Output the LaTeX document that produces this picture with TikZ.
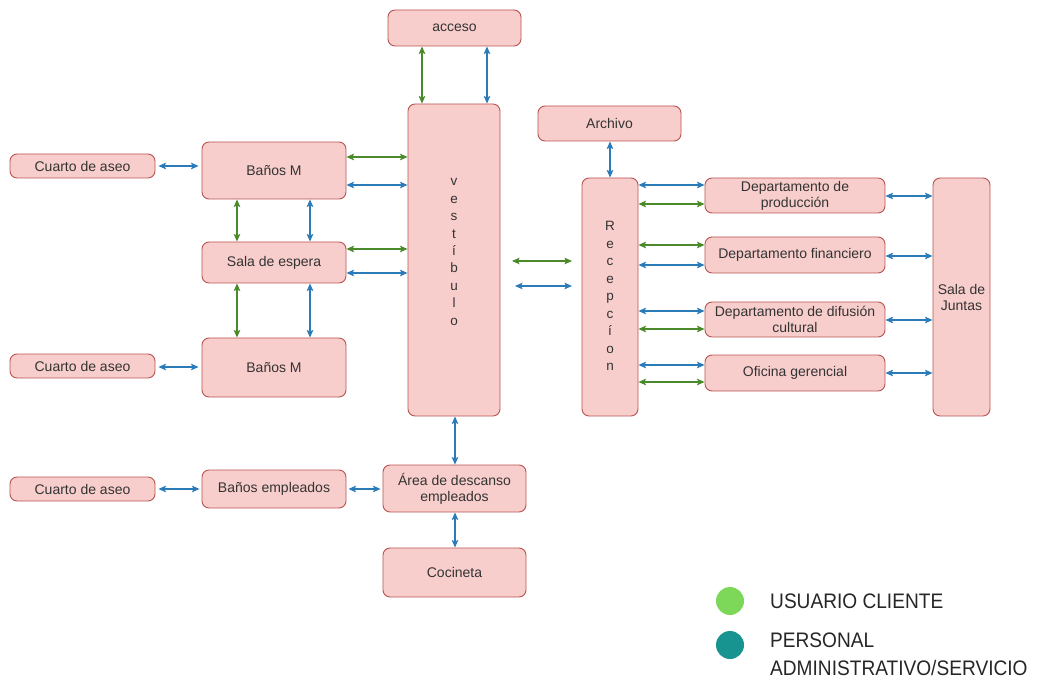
\documentclass[tikz,border=0pt]{standalone}
\usepackage{fontspec}
\setmainfont{Liberation Sans}
\usetikzlibrary{arrows.meta}
\definecolor{boxfill}{HTML}{F8CECC}
\definecolor{boxline}{HTML}{B85450}
\definecolor{garrow}{HTML}{4A8A2A}
\definecolor{barrow}{HTML}{2B7BB9}
\definecolor{leggreen}{HTML}{7DD85A}
\definecolor{legteal}{HTML}{17948F}
\definecolor{legtext}{HTML}{262626}
\definecolor{boxtext}{HTML}{333333}
\tikzset{
  box/.style={draw=boxline, fill=boxfill, rounded corners=7pt, line width=0.9pt,
    font=\fontsize{14}{16}\selectfont, text=boxtext, align=center, inner sep=0pt},
  vtext/.style={font=\fontsize{13.5}{17.5}\selectfont, text=boxtext, align=center, inner sep=0pt},
  conn/.style={line width=1.2pt, {Stealth[length=7.5pt,width=6.5pt,inset=1.5pt]}-{Stealth[length=7.5pt,width=6.5pt,inset=1.5pt]}},
  garr/.style={conn, draw=garrow, fill=garrow},
  barr/.style={conn, draw=barrow, fill=barrow},
  legtxt/.style={anchor=west, text=legtext, font=\fontsize{21}{28}\selectfont, inner sep=0pt, align=left}
}
\newcommand{\bx}[7]{% name, x1, y1, x2, y2, text
  \node[box, minimum width={#4-#2}, minimum height={#5-#3}] (#1) at ({(#2+#4)/2},{(#3+#5)/2}) {#6};}
\begin{document}
\begin{tikzpicture}[x=1pt,y=-1pt]
\useasboundingbox (0,0) rectangle (1037,687);
\bx{acceso}{388}{10}{521}{46}{acceso}{}
\bx{vest}{408}{104}{500}{416}{}{}
\node[vtext] (vtxt) at (454,252) {v\\e\\s\\t\\í\\b\\u\\l\\o};
\bx{archivo}{538}{106}{681}{141}{Archivo}{}
\bx{recep}{582}{178}{638}{416}{}{}
\node[vtext] (rtxt) at (610,296) {R\\e\\c\\e\\p\\c\\í\\o\\n};
\bx{ca1}{10}{154}{155}{178}{Cuarto de aseo}{}
\bx{bm1}{202}{142}{346}{199}{Baños M}{}
\bx{sala}{202}{242}{346}{283}{Sala de espera}{}
\bx{ca2}{10}{354}{155}{378}{Cuarto de aseo}{}
\bx{bm2}{202}{338}{346}{397}{Baños M}{}
\bx{ca3}{10}{477}{155}{501}{Cuarto de aseo}{}
\bx{be}{202}{470}{346}{508}{Baños empleados}{}
\bx{area}{383}{465}{526}{512}{Área de descanso\\empleados}{}
\bx{coc}{383}{548}{526}{597}{Cocineta}{}
\bx{dprod}{705}{178}{885}{213}{Departamento de\\producción}{}
\bx{dfin}{705}{237}{885}{273}{Departamento financiero}{}
\bx{ddif}{705}{302}{885}{337}{Departamento de difusión\\cultural}{}
\bx{ofi}{705}{355}{885}{391}{Oficina gerencial}{}
\bx{juntas}{933}{178}{990}{416}{Sala de\\Juntas}{}
% acceso - vestibulo
\draw[garr] (acceso.south -| 422,0) -- (vest.north -| 422,0);
\draw[barr] (acceso.south -| 487,0) -- (vest.north -| 487,0);
% banos M / sala -> vestibulo
\draw[garr] (bm1.east |- 0,157) -- (vest.west |- 0,157);
\draw[barr] (bm1.east |- 0,185) -- (vest.west |- 0,185);
\draw[garr] (sala.east |- 0,249) -- (vest.west |- 0,249);
\draw[barr] (sala.east |- 0,273) -- (vest.west |- 0,273);
% vertical between banos and sala
\draw[garr] (bm1.south -| 237,0) -- (sala.north -| 237,0);
\draw[barr] (bm1.south -| 310,0) -- (sala.north -| 310,0);
\draw[garr] (sala.south -| 237,0) -- (bm2.north -| 237,0);
\draw[barr] (sala.south -| 310,0) -- (bm2.north -| 310,0);
% cuarto de aseo
\draw[barr, shorten <=3pt, shorten >=3pt] (ca1.east |- 0,166) -- (bm1.west |- 0,166);
\draw[barr, shorten <=3pt, shorten >=3pt] (ca2.east |- 0,367) -- (bm2.west |- 0,367);
\draw[barr, shorten <=3pt, shorten >=2pt] (ca3.east |- 0,489) -- (be.west |- 0,489);
\draw[barr, shorten <=2pt, shorten >=2pt] (be.east |- 0,489) -- (area.west |- 0,489);
% vestibulo - area - cocineta
\draw[barr] (vest.south -| 455,0) -- (area.north -| 455,0);
\draw[barr] (area.south -| 455,0) -- (coc.north -| 455,0);
% free arrows vestibulo - recepcion
\coordinate (g1) at (512,261); \coordinate (g2) at (572,261);
\coordinate (b1) at (515,286); \coordinate (b2) at (572,286);
\draw[garr] (g1) -- (g2);
\draw[barr] (b1) -- (b2);
% archivo - recepcion
\draw[barr] (archivo.south -| 610,0) -- (recep.north -| 610,0);
% recepcion - departamentos
\draw[barr] (recep.east |- 0,185) -- (dprod.west |- 0,185);
\draw[garr] (recep.east |- 0,204) -- (dprod.west |- 0,204);
\draw[garr] (recep.east |- 0,245) -- (dfin.west |- 0,245);
\draw[barr] (recep.east |- 0,265) -- (dfin.west |- 0,265);
\draw[barr] (recep.east |- 0,311) -- (ddif.west |- 0,311);
\draw[garr] (recep.east |- 0,329) -- (ddif.west |- 0,329);
\draw[barr] (recep.east |- 0,365) -- (ofi.west |- 0,365);
\draw[garr] (recep.east |- 0,382) -- (ofi.west |- 0,382);
% departamentos - sala de juntas
\draw[barr] (dprod.east |- 0,196) -- (juntas.west |- 0,196);
\draw[barr] (dfin.east |- 0,256) -- (juntas.west |- 0,256);
\draw[barr] (ddif.east |- 0,320) -- (juntas.west |- 0,320);
\draw[barr] (ofi.east |- 0,373) -- (juntas.west |- 0,373);
% legend
\fill[leggreen] (730,601) circle (14);
\fill[legteal] (730,645) circle (14);
\node[legtxt] (l1) at (770,601) {\scalebox{0.91}[1]{USUARIO CLIENTE}};
\node[legtxt] (l2) at (770,640) {\scalebox{0.91}[1]{PERSONAL}};
\node[legtxt] (l3) at (770,668) {\scalebox{0.91}[1]{ADMINISTRATIVO/SERVICIO}};
\end{tikzpicture}
\end{document}
